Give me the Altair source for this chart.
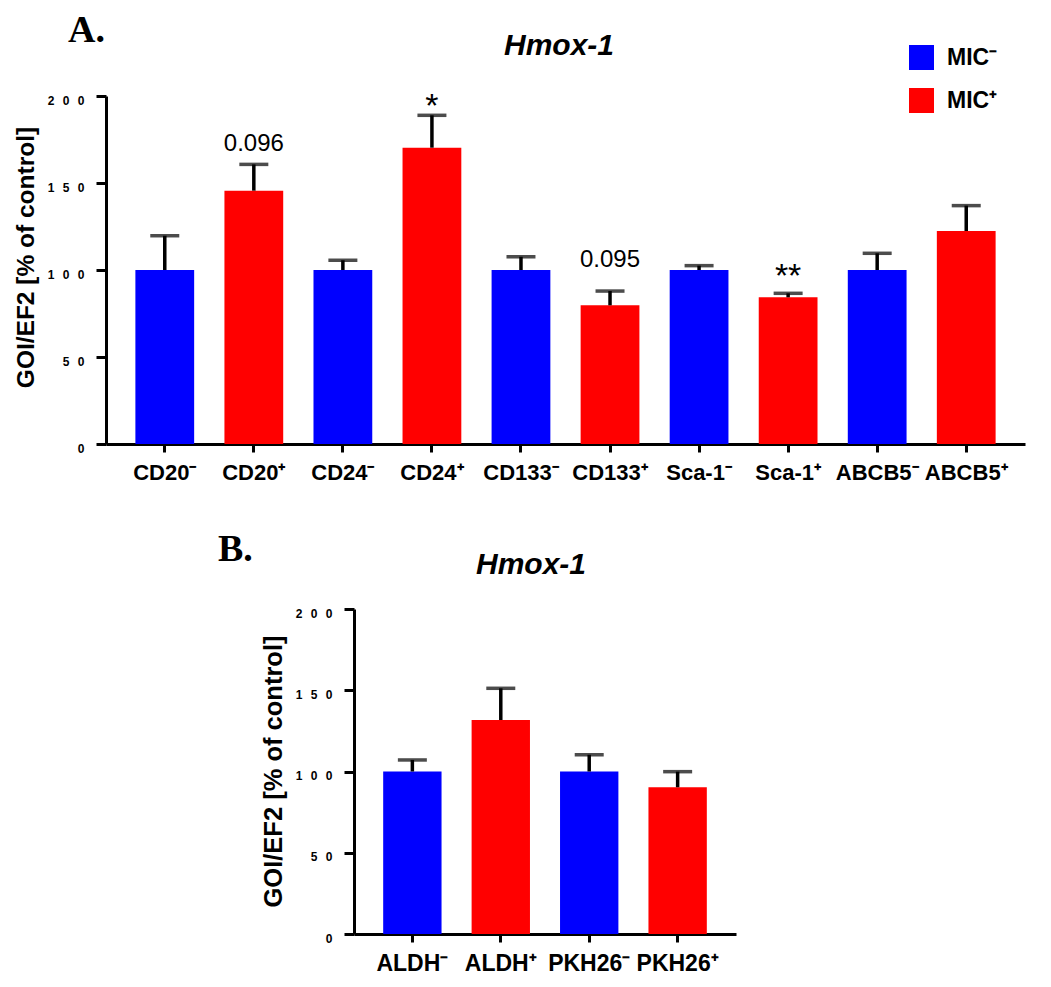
import altair as alt
import pandas as pd

# ---------------- data ----------------
cats_a = ["CD20⁻", "CD20⁺", "CD24⁻", "CD24⁺", "CD133⁻", "CD133⁺", "Sca-1⁻", "Sca-1⁺", "ABCB5⁻", "ABCB5⁺"]
groups_a = ["MIC⁻", "MIC⁺"] * 5
mean_a = [100, 145.6, 100, 170.3, 100, 79.7, 100, 84.3, 100, 122.4]
err_a = [19.7, 15.1, 5.6, 18.6, 7.6, 8.2, 2.5, 2.3, 9.6, 14.6]
annot_a = ["", "0.096", "", "*", "", "0.095", "", "**", "", ""]
annot_pos_a = [0, 168.4, 0, 188.0, 0, 101.7, 0, 90.5, 0, 0]

cats_b = ["ALDH⁻", "ALDH⁺", "PKH26⁻", "PKH26⁺"]
groups_b = ["MIC⁻", "MIC⁺"] * 2
mean_b = [100, 131.7, 100, 90.3]
err_b = [7.1, 19.5, 10.3, 9.6]

y_ticks = [0, 50, 100, 150, 200]
legend_labels = ["MIC⁻", "MIC⁺"]
colors = ["#0000FF", "#FF0000"]
title_text = "Hmox-1"
y_title = "GOI/EF2 [% of control]"

FONT = "Arial"

df_a = pd.DataFrame({"cat": cats_a, "grp": groups_a, "mean": mean_a, "err": err_a,
                     "annot": annot_a, "apos": annot_pos_a})
df_a["top"] = df_a["mean"] + df_a["err"]
df_b = pd.DataFrame({"cat": cats_b, "grp": groups_b, "mean": mean_b, "err": err_b})
df_b["top"] = df_b["mean"] + df_b["err"]

SPACED = "join(split(datum.label,''),'\u2002\u2009')"


def y_axis(title_y, title_size):
    return alt.Axis(values=y_ticks, labelExpr=SPACED, labelFontSize=12, labelFontWeight="bold",
                    labelFont=FONT, labelColor="black", labelPadding=12, labelOffset=4,
                    tickSize=10, tickWidth=3, tickColor="black", domainWidth=3, domainColor="black",
                    grid=False, title=y_title, titleFont=FONT, titleFontSize=title_size,
                    titleFontWeight="bold", titleColor="black", titlePadding=9, titleY=title_y)


def x_axis(size):
    return alt.Axis(labelAngle=0, labelFontSize=size, labelFontWeight="bold", labelFont=FONT,
                    labelColor="black", labelPadding=10, tickSize=8, tickWidth=3, tickColor="black",
                    domainWidth=3, domainColor="black", title=None)


def panel(df, cats, width, height, size, letter, letter_x, letter_y, title_x, title_y, ytitle_y,
          ytitle_size, show_legend):
    xenc = alt.X("cat:N", sort=cats, axis=x_axis(size),
                 scale=alt.Scale(paddingInner=0.34, paddingOuter=0.33))
    yscale = alt.Scale(domain=[0, 200], nice=False)
    legend = None
    if show_legend:
        legend = alt.Legend(title=None, orient="none", legendX=803, legendY=-51, symbolType="square",
                            symbolSize=625, symbolStrokeWidth=0, symbolOpacity=1, labelFontSize=23,
                            labelFontWeight="bold", labelFont=FONT, labelColor="black", rowPadding=18,
                            labelOffset=13, padding=0)
    color = alt.Color("grp:N", scale=alt.Scale(domain=legend_labels, range=colors), legend=legend)
    base = alt.Chart(df)
    bars = base.mark_bar().encode(
        x=xenc, y=alt.Y("mean:Q", scale=yscale, axis=y_axis(ytitle_y, ytitle_size)), color=color)
    stem = base.mark_rule(color="black", strokeWidth=3.5).encode(x=xenc, y="mean:Q", y2="top:Q")
    cap = base.mark_tick(color="black", thickness=3.5, size=29).encode(x=xenc, y="top:Q")
    layers = [bars, stem, cap]
    if "annot" in df.columns:
        pval = base.transform_filter("datum.annot != '' && indexof(datum.annot, '*') < 0").mark_text(
            font=FONT, fontSize=24, baseline="alphabetic", color="black").encode(
            x=xenc, y="apos:Q", text="annot:N")
        stars = base.transform_filter("indexof(datum.annot, '*') >= 0").mark_text(
            font=FONT, fontSize=34, baseline="alphabetic", color="black").encode(
            x=xenc, y="apos:Q", text="annot:N")
        layers += [pval, stars]
    lab = alt.Chart(pd.DataFrame({"t": [letter]})).mark_text(
        font="Liberation Serif", fontSize=38, fontWeight="bold", align="left", baseline="alphabetic",
        color="black").encode(x=alt.value(letter_x), y=alt.value(letter_y), text="t:N")
    ttl = alt.Chart(pd.DataFrame({"t": [title_text]})).mark_text(
        font=FONT, fontSize=30, fontWeight="bold", fontStyle="italic", align="center",
        baseline="alphabetic", color="black").encode(
        x=alt.value(title_x), y=alt.value(title_y), text="t:N")
    layers += [lab, ttl]
    return alt.layer(*layers).properties(width=width, height=height)


chart_a = panel(df_a, cats_a, 919, 348, 22, "A.", -38, -54, 453, -41, 161, 24.5, True)
chart_b = panel(df_b, cats_b, 382, 325, 23, "B.", -136, -48, 177, -35, 162, 25.5, False)

spacer = alt.Chart(pd.DataFrame({"v": [0]})).mark_text(text="").encode(
    x=alt.value(0), y=alt.value(0)).properties(width=92, height=10)

chart = alt.vconcat(
    chart_a, alt.hconcat(spacer, chart_b, spacing=20), spacing=48,
    padding={"left": 5, "right": 5, "top": 4, "bottom": 5},
).resolve_scale(color="independent").configure(
    background="white", view=alt.ViewConfig(strokeWidth=0))

chart.save("out.html", embed_options={"renderer": "svg", "actions": False})
